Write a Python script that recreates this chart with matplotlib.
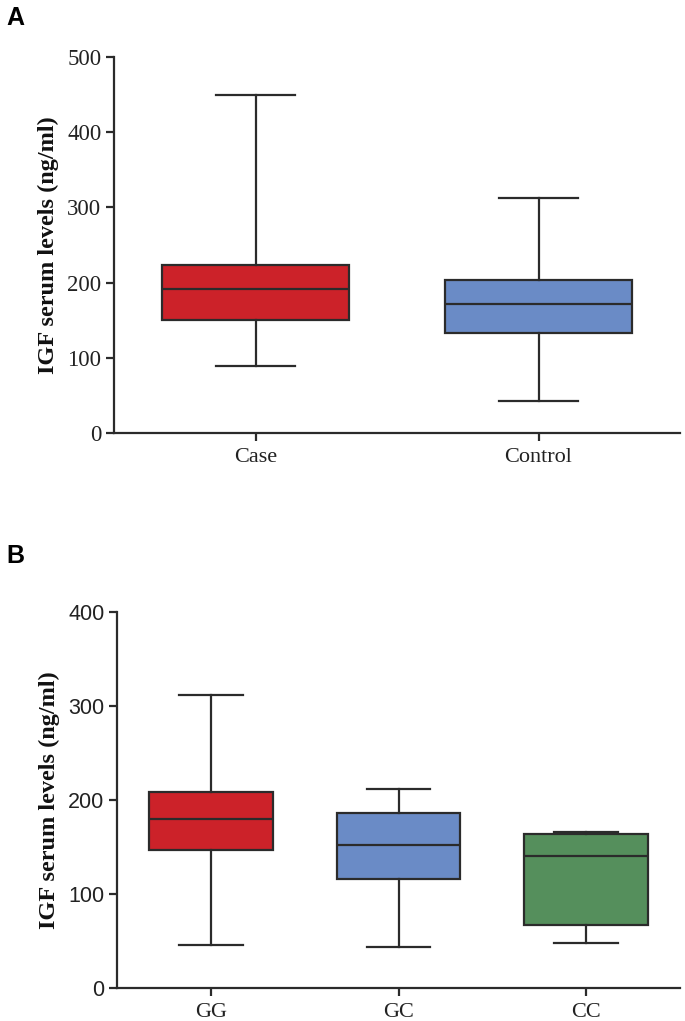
import matplotlib
matplotlib.use("Agg")
import matplotlib.pyplot as plt

# Panel A data
groups_a = ["Case", "Control"]
a_whislo = [89, 43]
a_q1 = [150, 133]
a_med = [192, 171]
a_q3 = [223, 204]
a_whishi = [449, 312]
a_colors = ["#CC2229", "#6A8BC6"]
a_yticks = [0, 100, 200, 300, 400, 500]

# Panel B data
groups_b = ["GG", "GC", "CC"]
b_whislo = [46, 44, 48]
b_q1 = [147, 116, 67]
b_med = [180, 152, 140]
b_q3 = [209, 186, 164]
b_whishi = [312, 212, 166]
b_colors = ["#CC2229", "#6A8BC6", "#558F5C"]
b_yticks = [0, 100, 200, 300, 400]

W, H = 685, 1021
fig = plt.figure(figsize=(W / 100, H / 100), dpi=100)

serif = "Liberation Serif"
sans = "Liberation Sans"
lc = "#2b2b2b"


def make_stats(labels, lo, q1, med, q3, hi):
    return [dict(label=l, whislo=a, q1=b, med=c, q3=d, whishi=e, fliers=[])
            for l, a, b, c, d, e in zip(labels, lo, q1, med, q3, hi)]


def panel(rect, labels, lo, q1, med, q3, hi, colors, yticks, ytickfont, ytsize, capw):
    ax = fig.add_axes(rect)
    stats = make_stats(labels, lo, q1, med, q3, hi)
    bp = ax.bxp(stats, positions=range(len(labels)), widths=0.66,
                patch_artist=True, showfliers=False, capwidths=capw,
                boxprops=dict(linewidth=1.6, edgecolor=lc),
                medianprops=dict(linewidth=1.6, color=lc),
                whiskerprops=dict(linewidth=1.6, color=lc),
                capprops=dict(linewidth=1.6, color=lc))
    for p, c in zip(bp["boxes"], colors):
        p.set_facecolor(c)
    ax.set_xlim(-0.5, len(labels) - 0.5)
    ax.set_ylim(yticks[0], yticks[-1])
    ax.set_yticks(yticks)
    ax.set_yticklabels([str(t) for t in yticks], fontfamily=ytickfont, fontsize=ytsize, color="#222")
    ax.set_xticks(range(len(labels)))
    ax.set_xticklabels(labels, fontfamily=serif, fontsize=16, color="#222")
    for s in ["top", "right"]:
        ax.spines[s].set_visible(False)
    for s in ["left", "bottom"]:
        ax.spines[s].set_linewidth(1.6)
        ax.spines[s].set_color(lc)
    ax.tick_params(direction="out", length=6, width=1.6, color=lc, pad=3)
    ax.tick_params(axis="x", pad=5)
    ax.set_ylabel("IGF serum levels (ng/ml)", fontfamily=serif, fontweight="bold",
                  fontsize=17.5, labelpad=6, color="#111")
    return ax


axA = panel([114 / W, 1 - 433 / H, (680 - 114) / W, (433 - 57) / H],
            groups_a, a_whislo, a_q1, a_med, a_q3, a_whishi, a_colors, a_yticks,
            serif, 16.5, 0.28)
axB = panel([117 / W, 1 - 988 / H, (680 - 117) / W, (988 - 612) / H],
            groups_b, b_whislo, b_q1, b_med, b_q3, b_whishi, b_colors, b_yticks,
            sans, 15.5, 0.34)

fig.text(6 / W, 1 - 18 / H, "A", fontfamily=sans, fontweight="bold", fontsize=18,
         va="center", ha="left")
fig.text(6 / W, 1 - 556 / H, "B", fontfamily=sans, fontweight="bold", fontsize=18,
         va="center", ha="left")

fig.savefig("out.png", dpi=100)
